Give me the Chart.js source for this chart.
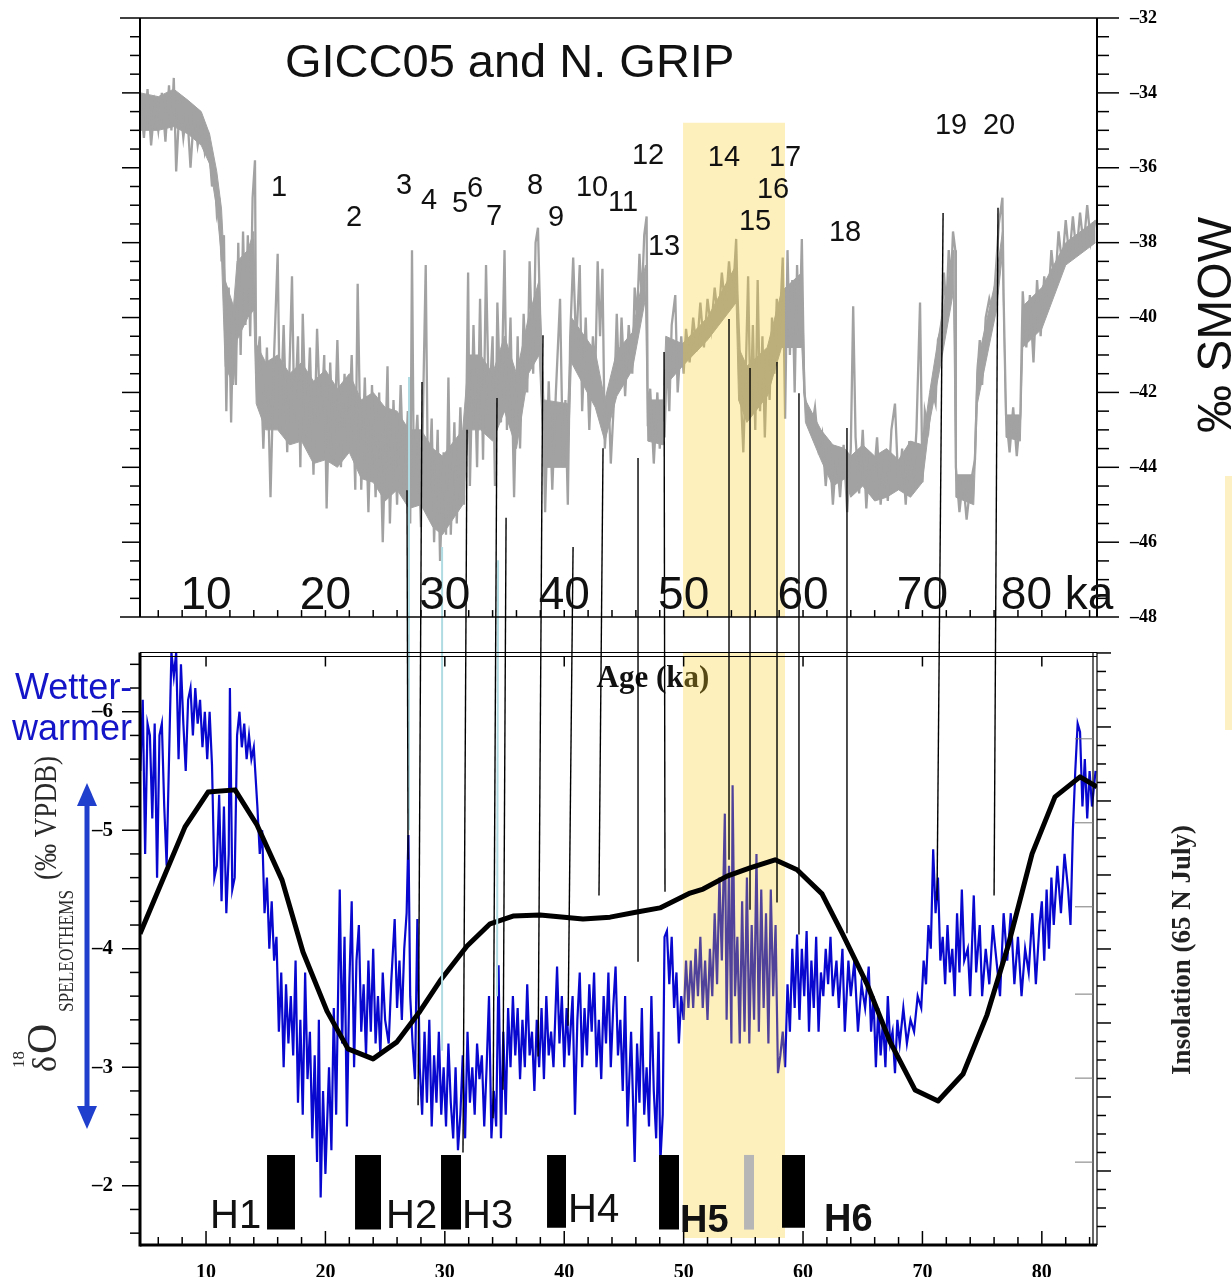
<!DOCTYPE html>
<html>
<head>
<meta charset="utf-8">
<script src="https://cdn.jsdelivr.net/npm/chart.js@4.4.1/dist/chart.umd.min.js"></script>
<style>
  html, body { margin: 0; padding: 0; background: #fff; }
  #wrap { position: relative; width: 1232px; height: 1277px; }
  #chart { position: absolute; left: 0; top: 0; }
  #edge { position: absolute; left: 1225px; top: 476px; width: 7px; height: 254px; background: #fdf0c2; }
</style>
</head>
<body>
<div id="wrap">
  <canvas id="chart" width="1232" height="1277"></canvas>
  <div id="edge"></div>
</div>
<script>
const SERIF = '"Liberation Serif", "Times New Roman", serif';
const SANS = '"Liberation Sans", Arial, sans-serif';
const NARROW = '"Liberation Sans Narrow", "Liberation Sans", Arial, sans-serif';

// Greenland ice core (GICC05 / NGRIP), ka vs permil SMOW
const iceAge = [
  4.5, 4.8, 5.1, 5.4, 5.7, 6.0, 6.3, 6.6, 6.9, 7.1,
  7.3, 7.5, 7.8, 8.1, 8.4, 8.7, 9.0, 9.3, 9.6, 9.9,
  10.2, 10.5, 10.7, 10.9, 11.1, 11.3, 11.5, 11.7, 11.9, 12.1,
  12.3, 12.5, 12.7, 12.9, 13.1, 13.3, 13.5, 13.7, 13.9, 14.1,
  14.2, 14.5, 14.8, 15.1, 15.4, 15.7, 16.0, 16.2, 16.5, 16.8,
  17.2, 17.4, 17.7, 17.9, 18.1, 18.4, 18.7, 19.0, 19.3, 19.6,
  19.9, 20.1, 20.4, 20.7, 21.0, 21.3, 21.6, 21.9, 22.2, 22.5,
  22.7, 23.0, 23.3, 23.6, 23.9, 24.2, 24.5, 24.8, 25.2, 25.4,
  25.7, 26.0, 26.3, 26.6, 26.9, 27.1, 27.25, 27.4, 27.7, 28.0,
  28.2, 28.4, 28.6, 28.9, 29.1, 29.4, 29.6, 29.9, 30.1, 30.3,
  30.5, 30.8, 31.0, 31.3, 31.6, 31.8, 31.95, 32.1, 32.4, 32.7,
  32.95, 33.2, 33.45, 33.7, 34.0, 34.2, 34.4, 34.7, 35.0, 35.2,
  35.5, 35.8, 36.1, 36.3, 36.6, 36.9, 37.1, 37.4, 37.6, 37.8,
  38.0, 38.2, 38.4, 38.7, 39.0, 39.3, 39.65, 39.9, 40.1, 40.3,
  40.5, 40.75, 41.0, 41.3, 41.5, 41.8, 42.1, 42.4, 42.6, 42.8,
  43.0, 43.2, 43.4, 43.7, 43.9, 44.2, 44.4, 44.6, 44.8, 45.1,
  45.4, 45.7, 45.9, 46.1, 46.3, 46.5, 46.7, 46.9, 47.0, 47.2,
  47.5, 47.8, 48.0, 48.2, 48.4, 48.6, 48.8, 49.0, 49.3, 49.5,
  49.8, 50.0, 50.2, 50.5, 50.8, 51.1, 51.4, 51.7, 52.0, 52.3,
  52.6, 52.9, 53.2, 53.5, 53.8, 54.1, 54.4, 54.5, 54.7, 54.85,
  55.0, 55.2, 55.4, 55.6, 55.8, 56.0, 56.2, 56.4, 56.6, 56.8,
  57.0, 57.2, 57.4, 57.6, 57.8, 58.0, 58.3, 58.5, 58.7, 58.9,
  59.1, 59.3, 59.5, 59.7, 59.9, 60.1, 60.4, 60.7, 61.0, 61.3,
  61.6, 61.9, 62.2, 62.5, 62.8, 63.1, 63.4, 63.7, 64.0, 64.2,
  64.4, 64.7, 65.0, 65.3, 65.6, 65.9, 66.2, 66.5, 66.8, 67.1,
  67.4, 67.7, 68.0, 68.3, 68.6, 68.9, 69.2, 69.5, 69.8, 70.0,
  70.2, 70.5, 70.8, 71.1, 71.3, 71.6, 71.8, 72.0, 72.2, 72.4,
  72.56, 72.75, 72.8, 73.1, 73.4, 73.7, 74.0, 74.4, 74.6, 74.8,
  75.0, 75.3, 75.6, 75.9, 76.2, 76.4, 76.7, 76.8, 77.0, 77.3,
  77.6, 77.9, 78.2, 78.4, 78.7, 79.0, 79.3, 79.6, 79.9, 80.2,
  80.5, 80.8, 81.1, 81.4, 81.7, 82.0, 82.3, 82.6, 82.9, 83.2,
  83.5, 83.8, 84.1, 84.5
];
const iceD18O = [
  -34.2, -35.2, -33.9, -35.4, -34.3, -35.0, -34.0, -35.3, -33.8, -35.0,
  -33.6, -36.1, -34.2, -35.2, -34.4, -36.0, -34.5, -35.4, -34.8, -35.6,
  -35.2, -36.5, -36.0, -37.2, -36.8, -38.5, -37.8, -42.5, -39.2, -42.8,
  -39.8, -41.8, -38.0, -41.0, -37.7, -40.2, -37.8, -40.5, -36.8, -35.8,
  -41.5, -40.5, -43.5, -40.8, -44.8, -41.0, -38.3, -43.0, -40.2, -43.6,
  -38.9, -42.8, -40.5, -44.0, -39.9, -43.2, -40.8, -44.2, -40.3, -42.9,
  -41.0, -45.1, -41.2, -43.8, -40.6, -44.0, -41.5, -43.5, -41.0, -44.6,
  -39.1, -44.6, -41.6, -45.2, -41.8, -44.8, -42.0, -46.0, -41.3, -45.5,
  -42.2, -45.0, -41.8, -44.8, -42.5, -45.5, -38.2, -44.2, -42.6, -45.6,
  -42.0, -38.6, -45.0, -42.7, -46.0, -43.0, -46.5, -43.6, -45.8, -41.6,
  -45.8, -42.8, -45.5, -42.4, -45.0, -42.5, -38.8, -44.5, -40.2, -44.0,
  -39.5, -43.8, -38.6, -42.5, -40.5, -44.5, -39.6, -42.8, -38.2, -43.0,
  -40.0, -44.8, -40.5, -43.5, -39.9, -42.0, -38.5, -41.5, -38.0, -37.6,
  -40.2, -42.0, -45.2, -41.7, -44.6, -42.0, -39.5, -44.0, -42.2, -45.0,
  -40.5, -38.4, -40.8, -38.6, -42.5, -40.0, -43.0, -40.5, -41.5, -38.5,
  -40.5, -38.7, -43.5, -41.9, -43.9, -42.0, -39.9, -41.8, -40.0, -42.1,
  -40.2, -41.5, -39.2, -40.0, -38.3, -39.5, -37.8, -37.3, -42.9, -41.9,
  -43.9, -42.0, -43.5, -42.3, -43.2, -41.0, -42.5, -40.2, -39.4, -42.0,
  -40.5, -41.5, -40.3, -41.2, -40.0, -40.9, -39.6, -40.8, -39.5, -40.3,
  -39.2, -40.1, -38.8, -39.8, -38.5, -39.6, -37.9, -39.3, -41.0, -42.5,
  -43.6, -41.5, -38.9, -42.5, -40.2, -43.0, -39.0, -42.5, -40.5, -43.2,
  -41.0, -42.2, -40.0, -41.5, -39.5, -40.6, -38.4, -42.7, -38.2, -41.0,
  -39.0, -42.0, -38.6, -40.5, -37.9, -42.0, -42.6, -43.0, -42.4, -43.5,
  -43.1, -44.5, -43.3, -45.0, -43.6, -44.8, -43.4, -45.2, -43.5, -39.7,
  -43.2, -44.7, -43.0, -45.1, -43.6, -44.4, -43.2, -45.0, -43.8, -44.9,
  -43.0, -42.3, -44.6, -43.5, -45.0, -43.3, -44.7, -43.0, -39.6, -44.4,
  -42.5, -43.0, -41.9, -42.3, -40.6, -40.3, -38.8, -39.8, -38.2, -39.0,
  -37.7, -38.2, -44.0, -45.2, -44.3, -45.4, -44.5, -43.8, -41.5, -40.6,
  -41.8, -40.0, -39.5, -39.9, -38.5, -37.5, -36.8, -39.5, -42.6, -43.6,
  -42.4, -43.7, -42.6, -39.3, -40.8, -39.4, -41.2, -39.0, -40.5, -38.9,
  -39.8, -38.2, -39.2, -37.7, -38.6, -37.4, -38.4, -37.3, -38.3, -37.2,
  -38.1, -37.0, -38.0, -37.4
];

// dense core of the ice core trace (upper and lower edge of the grey band)
const iceBandAge = [4.5, 6.0, 7.3, 8.5, 9.6, 10.3, 10.9, 11.3, 11.6, 12.3,
  12.6, 13.5, 14.0, 14.2, 15.0, 16.0, 17.0, 18.0, 19.0, 20.0,
  21.0, 22.0, 23.0, 24.0, 25.0, 26.0, 27.0, 28.0, 29.0, 29.8,
  31.5, 32.0, 33.0, 34.0, 35.0, 36.0, 37.0, 37.9, 38.3, 40.3,
  40.6, 42.6, 43.4, 44.4, 45.7, 46.8, 47.0, 48.3, 48.5, 49.9,
  52.0, 54.4, 54.6, 55.3, 57.0, 58.2, 59.9, 60.2, 61.5, 62.5,
  63.5, 64.0, 65.0, 66.0, 67.0, 68.0, 69.0, 70.0, 70.6, 71.5,
  72.6, 72.8, 74.3, 74.6, 76.2, 76.7, 77.0, 78.2, 78.4, 80.0,
  82.0, 84.5];
const iceBandHi = [-34.0, -34.1, -33.9, -34.2, -34.5, -35.1, -36.1, -37.1, -39.0, -39.7,
  -38.5, -38.2, -37.7, -40.7, -41.2, -41.0, -41.5, -41.2, -41.7, -41.4,
  -41.9, -41.5, -42.2, -42.0, -42.4, -42.5, -43.0, -43.0, -43.5, -43.7,
  -43.0, -41.0, -41.0, -41.5, -40.5, -41.5, -40.0, -39.0, -42.2, -42.3,
  -40.0, -40.9, -42.2, -40.9, -40.4, -38.6, -42.2, -42.2, -40.5, -40.7,
  -40.0, -38.6, -40.8, -41.3, -40.8, -39.3, -38.8, -42.2, -43.0, -43.4,
  -43.5, -43.7, -43.4, -43.7, -43.5, -43.8, -43.3, -43.4, -42.0, -40.2,
  -38.2, -44.2, -44.2, -41.2, -38.9, -37.7, -42.6, -42.6, -39.7, -39.2,
  -38.0, -37.4];
const iceBandLo = [-35.0, -35.0, -34.9, -35.1, -35.4, -35.9, -37.1, -38.4, -41.3, -41.8,
  -40.6, -40.0, -39.8, -42.3, -43.0, -43.0, -43.4, -43.3, -43.9, -43.8,
  -44.0, -43.6, -44.3, -44.4, -44.9, -44.6, -45.1, -45.0, -45.6, -45.8,
  -45.0, -43.0, -43.0, -43.3, -42.5, -43.5, -41.5, -41.0, -44.0, -44.0,
  -41.2, -42.4, -43.3, -42.1, -41.4, -39.5, -43.3, -43.4, -41.8, -41.3,
  -40.6, -39.6, -42.2, -42.8, -42.1, -40.8, -40.8, -42.8, -43.8, -44.5,
  -44.3, -44.8, -44.5, -44.9, -44.8, -44.6, -44.8, -44.4, -42.8, -41.3,
  -39.3, -44.8, -45.0, -42.3, -39.8, -38.3, -43.2, -43.3, -40.8, -40.3,
  -38.6, -38.0];

// speleothem d18O, ka vs permil VPDB
const spelAge = [
  4.5, 4.7, 4.9, 5.1, 5.3, 5.5, 5.7, 5.9, 6.1, 6.3,
  6.5, 6.7, 6.9, 7.1, 7.3, 7.5, 7.7, 7.9, 8.1, 8.3,
  8.5, 8.7, 8.9, 9.1, 9.3, 9.5, 9.7, 9.9, 10.1, 10.3,
  10.5, 10.7, 10.9, 11.1, 11.3, 11.5, 11.7, 11.9, 12.0, 12.2,
  12.4, 12.6, 12.8, 13.0, 13.2, 13.4, 13.6, 13.8, 14.0, 14.3,
  14.5, 14.7, 14.9, 15.1, 15.3, 15.5, 15.7, 15.9, 16.1, 16.3,
  16.5, 16.7, 16.9, 17.1, 17.3, 17.5, 17.7, 17.9, 18.1, 18.3,
  18.5, 18.7, 18.9, 19.1, 19.3, 19.45, 19.6, 19.8, 20.0, 20.3,
  20.5, 20.7, 20.9, 21.2, 21.4, 21.6, 21.8, 22.0, 22.2, 22.4,
  22.6, 22.8, 23.0, 23.2, 23.4, 23.6, 23.8, 24.0, 24.2, 24.4,
  24.6, 24.8, 25.0, 25.3, 25.5, 25.8, 26.0, 26.2, 26.4, 26.6,
  26.8, 26.95, 27.1, 27.3, 27.5, 27.7, 27.9, 28.1, 28.3, 28.5,
  28.7, 28.9, 29.1, 29.3, 29.5, 29.7, 29.9, 30.1, 30.3, 30.5,
  30.7, 30.9, 31.1, 31.3, 31.5, 31.7, 31.9, 32.1, 32.3, 32.5,
  32.7, 32.9, 33.1, 33.3, 33.5, 33.7, 33.9, 34.1, 34.3, 34.5,
  34.7, 34.9, 35.1, 35.3, 35.5, 35.7, 35.9, 36.1, 36.3, 36.5,
  36.7, 36.9, 37.1, 37.3, 37.5, 37.7, 37.9, 38.1, 38.3, 38.5,
  38.7, 38.9, 39.1, 39.4, 39.6, 39.8, 40.0, 40.2, 40.4, 40.7,
  40.9, 41.1, 41.3, 41.5, 41.7, 41.9, 42.1, 42.3, 42.5, 42.7,
  42.9, 43.1, 43.3, 43.5, 43.7, 43.9, 44.1, 44.3, 44.5, 44.7,
  44.9, 45.1, 45.3, 45.6, 45.9, 46.1, 46.3, 46.5, 46.7, 46.9,
  47.1, 47.3, 47.5, 47.7, 47.9, 48.05, 48.25, 48.4, 48.6, 48.8,
  49.0, 49.2, 49.4, 49.6, 49.8, 50.0, 50.2, 50.4, 50.6, 50.8,
  51.0, 51.2, 51.4, 51.6, 51.8, 52.0, 52.2, 52.4, 52.6, 52.8,
  53.0, 53.2, 53.45, 53.6, 53.8, 54.0, 54.1, 54.3, 54.5, 54.7,
  54.9, 55.1, 55.3, 55.5, 55.7, 55.9, 56.1, 56.3, 56.5, 56.7,
  56.9, 57.1, 57.3, 57.5, 57.7, 57.9, 58.1, 58.3, 58.5, 58.7,
  58.9, 59.1, 59.3, 59.5, 59.7, 59.9, 60.1, 60.3, 60.5, 60.7,
  60.9, 61.1, 61.3, 61.5, 61.7, 61.9, 62.1, 62.3, 62.5, 62.8,
  63.0, 63.3, 63.5, 63.8, 64.0, 64.3, 64.6, 64.9, 65.2, 65.5,
  65.7, 65.9, 66.1, 66.3, 66.5, 66.7, 66.9, 67.1, 67.3, 67.5,
  67.7, 67.9, 68.1, 68.4, 68.7, 69.0, 69.3, 69.6, 69.9, 70.1,
  70.3, 70.5, 70.7, 70.9, 71.1, 71.3, 71.5, 71.7, 71.9, 72.1,
  72.3, 72.5, 72.7, 72.9, 73.1, 73.3, 73.5, 73.8, 74.0, 74.3,
  74.5, 74.8, 75.0, 75.3, 75.6, 75.9, 76.2, 76.5, 76.8, 77.1,
  77.4, 77.7, 78.0, 78.3, 78.6, 78.9, 79.2, 79.5, 79.8, 80.0,
  80.2, 80.4, 80.6, 80.8, 81.0, 81.3, 81.6, 81.9, 82.2, 82.4,
  82.6, 82.8, 83.0, 83.2, 83.4, 83.6, 83.8, 84.0, 84.2, 84.5
];
const spelD18O = [
  -5.5, -6.1, -4.8, -5.9, -5.8, -5.1, -5.9, -4.6, -5.8, -5.9,
  -5.2, -4.7, -5.6, -6.5, -6.3, -6.5, -5.6, -6.4, -5.9, -5.5,
  -6.1, -6.2, -5.8, -6.2, -5.9, -6.1, -5.7, -6.0, -5.6, -6.0,
  -5.55, -4.6, -4.7, -5.3, -4.4, -5.2, -4.3, -4.8, -6.2, -4.5,
  -4.6, -5.8, -6.0, -5.7, -5.9, -5.6, -5.8, -5.6, -5.7, -5.2,
  -4.8, -5.0, -4.3, -4.6, -4.0, -4.4, -3.9, -4.1, -3.3, -3.8,
  -3.0, -3.7, -3.2, -3.6, -3.1, -3.9, -2.7, -3.4, -2.6, -3.8,
  -2.9, -3.3, -2.4, -3.1, -2.2, -3.4, -1.9, -2.8, -2.1, -3.0,
  -2.3, -3.5, -2.6, -4.5, -3.2, -4.1, -2.5, -3.7, -4.4, -3.0,
  -3.9, -4.2, -3.3, -3.7, -3.1, -3.9, -3.3, -4.0, -3.2, -3.6,
  -3.1, -3.8, -3.4, -3.2, -3.7, -4.25, -3.5, -3.9, -3.4, -4.0,
  -4.3, -4.96, -3.6, -3.2, -2.9, -4.25, -3.0, -2.6, -3.3, -2.7,
  -3.4, -2.5, -3.1, -2.7, -3.3, -2.6, -3.0, -2.5, -3.2, -2.7,
  -2.4, -3.0, -2.3, -2.6, -3.1, -2.4, -3.3, -2.7, -3.0, -2.6,
  -3.2, -2.9, -3.1, -2.5, -3.0, -3.6, -2.4, -2.8, -2.5, -3.86,
  -2.4, -3.3, -2.6, -3.5, -3.0, -3.6, -3.1, -3.5, -2.9, -3.4,
  -3.0, -3.7, -3.1, -3.3, -2.8, -3.4, -3.0, -3.5, -2.9, -3.6,
  -3.1, -3.3, -3.0, -3.85, -3.2, -3.6, -3.0, -3.5, -3.1, -3.6,
  -2.6, -3.4, -3.8, -3.0, -3.5, -3.1, -3.7, -3.3, -3.8, -3.0,
  -3.4, -2.9, -3.6, -3.2, -3.8, -3.0, -3.5, -3.85, -3.1, -3.4,
  -2.8, -3.6, -2.5, -3.3, -2.2, -3.2, -2.7, -3.5, -2.6, -3.0,
  -2.5, -3.6, -2.8, -2.4, -3.3, -2.2, -2.6, -4.1, -4.15, -3.7,
  -4.1, -3.5, -3.8, -3.2, -3.6, -3.4, -3.9, -3.5, -3.9, -3.5,
  -4.0, -3.6, -4.1, -3.5, -3.9, -3.4, -4.0, -3.6, -4.3, -3.7,
  -4.6, -3.9, -5.14, -3.4, -4.7, -3.2, -5.38, -3.6, -4.1, -3.2,
  -4.4, -3.3, -4.6, -3.2, -4.2, -3.4, -4.8, -3.3, -4.5, -3.5,
  -4.3, -3.2, -4.5, -3.6, -4.2, -2.95, -3.1, -3.3, -3.0, -3.7,
  -3.3, -4.0, -3.5, -4.12, -3.4, -4.0, -3.6, -4.15, -3.3, -3.9,
  -3.5, -4.1, -3.3, -3.8, -3.6, -4.0, -3.7, -4.1, -3.6, -3.9,
  -3.5, -4.0, -3.3, -3.9, -3.6, -3.9, -3.3, -3.7, -3.5, -3.85,
  -3.3, -3.6, -3.0, -3.5, -3.1, -3.4, -3.0, -3.6, -3.2, -3.3,
  -2.95, -3.4, -3.2, -3.5, -3.2, -3.4, -3.3, -3.6, -3.5, -3.9,
  -3.7, -4.2, -4.0, -4.84, -4.3, -4.6, -3.9, -4.1, -3.7, -4.2,
  -3.8, -4.0, -3.6, -4.3, -3.8, -4.5, -3.9, -4.0, -3.6, -4.45,
  -3.8, -4.2, -3.6, -4.0, -3.7, -4.2, -3.9, -3.6, -4.3, -3.9,
  -4.3, -3.7, -4.1, -3.6, -4.0, -3.8, -4.3, -3.7, -4.2, -4.4,
  -3.9, -4.5, -4.0, -4.6, -4.2, -4.7, -4.3, -4.8, -4.5, -4.2,
  -5.0, -5.5, -5.9, -5.83, -5.2, -5.6, -5.1, -5.5, -5.2, -5.5
];

// insolation 65N July (W/m2, right axis, unlabelled)
const insAge = [4.47, 8.24, 10.17, 12.43, 14.27, 16.37, 18.12, 20.13, 21.89, 23.99,
  26.0, 27.92, 29.6, 31.86, 33.79, 35.71, 37.97, 41.57, 43.84, 46.1,
  48.02, 50.54, 51.63, 53.64, 55.56, 57.66, 59.5, 61.59, 63.35, 65.36,
  67.29, 69.38, 71.31, 73.4, 75.41, 77.17, 79.18, 81.1, 83.2, 84.62];
const insVal = [484.1, 513.0, 522.4, 523.0, 513.5, 498.6, 479.2, 463.2, 453.0, 450.3,
  454.9, 463.2, 471.4, 480.8, 486.8, 488.9, 489.2, 488.1, 488.6, 490.0,
  491.1, 495.1, 496.2, 499.7, 501.9, 504.1, 501.4, 494.9, 483.8, 470.5,
  454.9, 441.9, 438.9, 446.2, 462.2, 480.8, 505.7, 521.1, 526.5, 523.8];
const insInnerTicks = [422.4, 445.1, 467.8, 491.4, 514.1, 536.8];

// Heinrich events (ka ranges), bar extent on the speleothem axis
const hStart = [15.11, 22.48, 29.68, 38.56, 47.94, 55.06, 58.24];
const hEnd = [17.45, 24.66, 31.36, 40.15, 49.62, 55.9, 60.17];
const hTop = [-2.26, -2.26, -2.26, -2.26, -2.26, -2.26, -2.26];
const hBottom = [-1.63, -1.63, -1.63, -1.646, -1.63, -1.63, -1.646];
const hLabels = ['H1', 'H2', 'H3', 'H4', 'H5', 'H6'];
const hLabelAge = [10.34, 25.08, 31.44, 40.32, 49.7, 61.76];
const hLabelVal = [-1.645, -1.645, -1.645, -1.696, -1.612, -1.62];

// shaded interval (ka)
const bandAge = [49.95, 58.5];

// Dansgaard-Oeschger event numbers in the ice core panel
const eventNames = ['1','2','3','4','5','6','7','8','9','10','11','12','13','14','15','16','17','18','19','20'];
const eventAge = [16.11, 22.40, 26.58, 28.68, 31.27, 32.53, 34.12, 37.55, 39.31, 42.33,
  44.92, 47.02, 48.36, 53.38, 55.98, 57.49, 58.49, 63.52, 72.40, 76.42];
const eventVal = [-36.54, -37.34, -36.49, -36.89, -36.97, -36.57, -37.32, -36.49, -37.34, -36.54,
  -36.94, -35.69, -38.12, -35.74, -37.45, -36.59, -35.74, -37.74, -34.88, -34.88];

// tie lines: ice core point -> speleothem point
const linkTopAge = [26.83, 28.09, 31.86, 34.37, 35.13, 38.22, 40.74, 43.25, 46.18, 48.36, 53.8, 55.56, 57.82, 59.66, 63.68, 71.73, 76.33];
const linkTopVal = [-44.61, -41.72, -43.0, -42.15, -45.35, -40.47, -46.13, -43.49, -43.75, -40.92, -40.04, -41.35, -41.19, -42.02, -42.95, -37.21, -37.07];
const linkBotAge = [26.92, 27.76, 31.52, 34.04, 34.87, 37.81, 40.32, 42.91, 46.18, 48.44, 53.8, 55.56, 57.82, 59.66, 63.68, 71.22, 76.0];
const linkBotVal = [-4.75, -2.68, -2.28, -2.57, -2.81, -3.09, -3.35, -4.45, -3.89, -4.48, -4.75, -4.33, -4.39, -4.12, -4.13, -4.41, -4.45];
const cyanTopAge = [27.0, 29.77, 34.46];
const cyanTopVal = [-41.59, -46.13, -46.48];
const cyanBotAge = [27.0, 29.77, 34.37];
const cyanBotVal = [-5.0, -3.14, -3.6];

const topTicks = [10, 20, 30, 40, 50, 60, 70, 80];

function xy(ages, vals) { return ages.map((a, i) => ({ x: a, y: vals[i] })); }
function line(ctx, x1, y1, x2, y2) { ctx.beginPath(); ctx.moveTo(x1, y1); ctx.lineTo(x2, y2); ctx.stroke(); }

const GREY = '#a2a2a2';
const datasets = [
  { data: xy(iceBandAge, iceBandHi), yAxisID: 'yTop', borderColor: GREY, borderWidth: 1, pointRadius: 0, fill: '+1', backgroundColor: GREY, order: 12 },
  { data: xy(iceBandAge, iceBandLo), yAxisID: 'yTop', borderColor: GREY, borderWidth: 1, pointRadius: 0, fill: false, order: 11 },
  { data: xy(iceAge, iceD18O), yAxisID: 'yTop', borderColor: GREY, borderWidth: 2.3, pointRadius: 0, borderJoinStyle: 'miter', order: 10 },
  { data: xy(spelAge, spelD18O), yAxisID: 'yBot', borderColor: '#0707cf', borderWidth: 2.2, pointRadius: 0, order: 9 },
  { data: xy(bandAge, [-34.8, -34.8]), yAxisID: 'yTop', borderWidth: 0, pointRadius: 0, fill: { value: -48 }, backgroundColor: 'rgba(252,205,38,0.3)', order: 8 },
  { data: xy(bandAge, [-6.5, -6.5]), yAxisID: 'yBot', borderWidth: 0, pointRadius: 0, fill: { value: -1.56 }, backgroundColor: 'rgba(252,205,38,0.3)', order: 8 },
  { data: xy(insAge, insVal), yAxisID: 'yIns', borderColor: '#000', borderWidth: 5, pointRadius: 0, borderJoinStyle: 'round', order: 5 }
];
hStart.forEach((s, i) => {
  datasets.push({
    data: xy([s, hEnd[i]], [hTop[i], hTop[i]]), yAxisID: 'yBot',
    borderWidth: 0, pointRadius: 0, fill: { value: hBottom[i] },
    backgroundColor: i === 5 ? '#b6b6b6' : '#000', order: 4
  });
});

const dash = v => '\u2013' + Math.abs(v);

const decor = {
  id: 'decor',
  beforeDatasetsDraw(chart) {
    const ctx = chart.ctx;
    ctx.save();
    ctx.fillStyle = '#111';
    ctx.font = 'bold 31px ' + SERIF;
    ctx.textAlign = 'center';
    ctx.fillText('Age (ka)', 653, 687);
    ctx.restore();
  },
  afterDatasetsDraw(chart) {
    const { ctx, chartArea: { left: L, right: R }, scales: { x, yTop, yBot, yIns } } = chart;
    ctx.save();

    // tie lines
    ctx.strokeStyle = '#b0dbe3'; ctx.lineWidth = 2;
    cyanTopAge.forEach((a, i) => line(ctx, x.getPixelForValue(a), yTop.getPixelForValue(cyanTopVal[i]),
      x.getPixelForValue(cyanBotAge[i]), yBot.getPixelForValue(cyanBotVal[i])));
    ctx.strokeStyle = '#000'; ctx.lineWidth = 1.4;
    linkTopAge.forEach((a, i) => line(ctx, x.getPixelForValue(a), yTop.getPixelForValue(linkTopVal[i]),
      x.getPixelForValue(linkBotAge[i]), yBot.getPixelForValue(linkBotVal[i])));

    // top panel frame and ticks
    const tT = yTop.getPixelForValue(-32), tB = yTop.getPixelForValue(-48);
    ctx.lineWidth = 2;
    line(ctx, L, tT, L, tB); line(ctx, R, tT, R, tB);
    ctx.lineWidth = 1.5;
    line(ctx, L - 20, tT, R + 22, tT); line(ctx, L - 20, tB, R + 22, tB);
    for (let v = -32.5; v > -48; v -= 0.5) {
      const py = yTop.getPixelForValue(v), major = v % 2 === 0;
      line(ctx, L - (major ? 18 : 10), py, L, py);
      line(ctx, R, py, R + (major ? 22 : 12), py);
    }
    for (let k = 6; k <= 84; k += 2) { const px = x.getPixelForValue(k); line(ctx, px, tB, px, tB - 7); }

    // bottom panel frame and ticks
    const bT = yBot.getPixelForValue(-6.5), bB = yBot.getPixelForValue(-1.5);
    ctx.lineWidth = 1.2;
    line(ctx, L, bT, R, bT); line(ctx, L, bT + 4, R, bT + 4);
    line(ctx, R - 4, bT, R - 4, bB); line(ctx, R, bT, R, bB);
    ctx.lineWidth = 3;
    line(ctx, L, bT, L, bB + 1.5); line(ctx, L, bB, R, bB);
    ctx.lineWidth = 1.5;
    for (let i = -32; i <= -8; i++) {
      const py = yBot.getPixelForValue(i / 5);
      line(ctx, L - (i % 5 === 0 ? 18 : 10), py, L, py);
    }
    for (let k = 6; k <= 84; k += 2) {
      const px = x.getPixelForValue(k);
      line(ctx, px, bB, px, bB - (k % 10 === 0 ? 14 : 8));
    }
    for (let k = 10; k <= 80; k += 10) { const px = x.getPixelForValue(k); line(ctx, px, bT + 4, px, bT + 14); }
    for (let v = 405; v <= 560; v += 5) {
      const py = yIns.getPixelForValue(v);
      line(ctx, R, py, R + (v % 20 === 0 ? 14 : 9), py);
    }
    ctx.strokeStyle = '#7a7a7a'; ctx.lineWidth = 1;
    insInnerTicks.forEach(v => { const py = yIns.getPixelForValue(v); line(ctx, R - 22, py, R - 4, py); });

    // ice core panel texts
    ctx.fillStyle = '#111';
    ctx.textAlign = 'left'; ctx.textBaseline = 'alphabetic';
    ctx.font = '47px ' + SANS;
    ctx.fillText('GICC05 and N. GRIP', 285, 77);
    ctx.font = '46px ' + SANS;
    topTicks.forEach(k => {
      const px = x.getPixelForValue(k);
      if (k === 80) { ctx.textAlign = 'left'; ctx.fillText('80 ka', px - 41, 609); }
      else { ctx.textAlign = 'center'; ctx.fillText(String(k), px, 609); }
    });
    ctx.font = '29px ' + SANS; ctx.textAlign = 'center'; ctx.textBaseline = 'middle';
    eventNames.forEach((n, i) => ctx.fillText(n, x.getPixelForValue(eventAge[i]), yTop.getPixelForValue(eventVal[i])));

    // Heinrich labels
    ctx.textAlign = 'left'; ctx.textBaseline = 'alphabetic';
    hLabels.forEach((t, i) => {
      ctx.font = (i >= 4 ? 'bold 38px ' : '40px ') + NARROW;
      ctx.fillText(t, x.getPixelForValue(hLabelAge[i]), yBot.getPixelForValue(hLabelVal[i]));
    });

    // right side titles
    ctx.save();
    ctx.translate(1231, 325); ctx.rotate(-Math.PI / 2);
    ctx.textAlign = 'center'; ctx.textBaseline = 'alphabetic';
    ctx.font = '48px ' + SANS; ctx.fillStyle = '#111';
    ctx.fillText('\u2030 SMOW', 0, 0);
    ctx.restore();
    ctx.save();
    ctx.translate(1183, 950); ctx.rotate(-Math.PI / 2);
    ctx.textAlign = 'center'; ctx.textBaseline = 'middle';
    ctx.font = 'bold 27px ' + SERIF; ctx.fillStyle = '#222';
    ctx.fillText('Insolation (65 N July)', 0, 0, 272);
    ctx.restore();

    // left side: wetter-warmer, arrow, axis title
    ctx.fillStyle = '#1414c8'; ctx.font = '36px ' + SANS; ctx.textAlign = 'left';
    ctx.fillText('Wetter-', 15, 699);
    ctx.fillText('warmer', 12, 740);
    ctx.fillStyle = ctx.strokeStyle = '#1f3fcc'; ctx.lineWidth = 5;
    line(ctx, 87, 800, 87, 1112);
    ctx.beginPath(); ctx.moveTo(87, 783); ctx.lineTo(77, 806); ctx.lineTo(97, 806); ctx.closePath(); ctx.fill();
    ctx.beginPath(); ctx.moveTo(87, 1129); ctx.lineTo(77, 1106); ctx.lineTo(97, 1106); ctx.closePath(); ctx.fill();

    ctx.save();
    ctx.translate(56, 1072); ctx.rotate(-Math.PI / 2);
    ctx.fillStyle = '#2a2a2a'; ctx.textAlign = 'left'; ctx.textBaseline = 'alphabetic';
    ctx.font = '34px ' + SERIF; ctx.fillText('\u03b4', 0, 0);
    ctx.font = '17px ' + SERIF; ctx.fillText('18', 4, -32);
    ctx.font = '42px ' + SERIF; ctx.fillText('O', 18, 0);
    ctx.font = '20px ' + SERIF; ctx.fillText('SPELEOTHEMS', 60, 17, 122);
    ctx.font = '31px ' + SERIF; ctx.fillText('(\u2030 VPDB)', 192, 0, 124);
    ctx.restore();

    ctx.restore();
  }
};

new Chart(document.getElementById('chart'), {
  type: 'line',
  data: { datasets },
  options: {
    responsive: false,
    animation: false,
    devicePixelRatio: 1,
    events: [],
    layout: { padding: 0 },
    plugins: { legend: { display: false }, tooltip: { enabled: false } },
    scales: {
      x: {
        type: 'linear', position: 'bottom', min: 4.47, max: 84.62,
        grid: { display: false }, border: { display: false },
        afterFit: s => { s.height = 32; s.paddingLeft = 0; s.paddingRight = 0; },
        ticks: {
          stepSize: 10, includeBounds: false, autoSkip: false, maxRotation: 0, padding: 8,
          color: '#000', font: { family: SERIF, weight: 'bold', size: 20 },
          callback: v => String(v)
        }
      },
      yBot: {
        type: 'linear', position: 'left', reverse: true, min: -11.854, max: -1.5,
        grid: { display: false }, border: { display: false },
        afterFit: s => { s.width = 140; s.paddingTop = 0; s.paddingBottom = 0; },
        ticks: {
          stepSize: 1, includeBounds: false, maxTicksLimit: 100, padding: 19,
          color: '#000', font: { family: SERIF, weight: 'bold', size: 21 },
          callback: v => (v >= -6 && v <= -2 ? dash(v) : '')
        }
      },
      yTop: {
        type: 'linear', position: 'right', min: -64.77, max: -32,
        grid: { display: false }, border: { display: false },
        afterFit: s => { s.width = 135; s.paddingTop = 18; s.paddingBottom = 0; },
        ticks: {
          stepSize: 2, includeBounds: false, maxTicksLimit: 100, padding: 25,
          color: '#000', font: { family: SERIF, weight: 'bold', size: 18 },
          callback: v => (v >= -48 ? dash(v) : '')
        }
      },
      yIns: {
        type: 'linear', position: 'right', display: false, min: 400, max: 731.6
      }
    }
  },
  plugins: [decor]
});
</script>
</body>
</html>
